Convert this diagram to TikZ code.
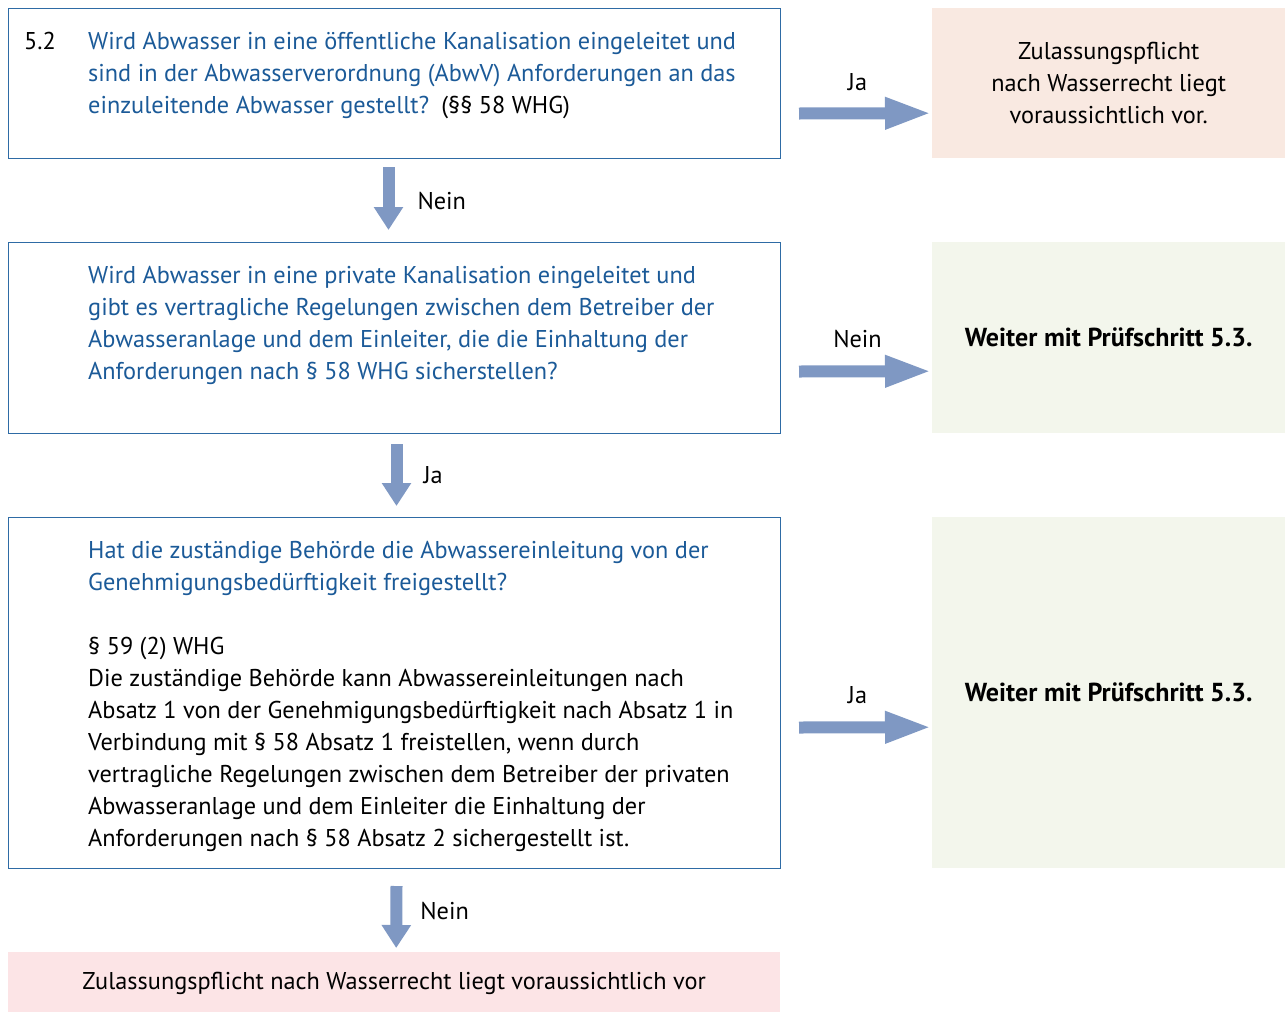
\documentclass[tikz,border=0pt]{standalone}
\usepackage{fontspec}
\setmainfont{PT Sans}
\usetikzlibrary{arrows.meta,positioning,calc}
\definecolor{QBlue}{HTML}{1B5A98}
\definecolor{Frame}{HTML}{2E6BA5}
\definecolor{ArrowBlue}{HTML}{7F98C3}
\definecolor{Beige}{HTML}{F9E9E1}
\definecolor{PaleGreen}{HTML}{F3F6EC}
\definecolor{Rose}{HTML}{FCE4E6}
\newcommand{\diafont}{\fontsize{24.3}{32}\selectfont}
\newcommand{\nextstep}{{\fontsize{26}{32}\selectfont\bfseries Weiter mit Prüfschritt 5.3.}}
\tikzset{
  qbox/.style={
    draw=Frame,
    line width=1pt,
    anchor=north west,
    inner sep=0pt,
    minimum width=772pt,
    minimum height=#1
  },
  resbox/.style={
    fill=#1,
    anchor=north west,
    align=center,
    inner sep=0pt,
    minimum width=353pt,
    font=\diafont
  },
  qtext/.style={
    anchor=north west,
    align=left,
    inner sep=0pt,
    text=QBlue,
    font=\diafont
  },
  lawtext/.style={
    anchor=north west,
    align=left,
    inner sep=0pt,
    text=black,
    font=\diafont
  },
  answer/.style={
    font=\diafont,
    inner sep=0pt
  },
  rightarrow/.style={
    -{Triangle[length=47pt,width=29pt]},
    line width=12pt,
    draw=ArrowBlue
  },
  downarrow/.style={
    -{Triangle[length=23pt,width=28pt]},
    line width=12pt,
    draw=ArrowBlue
  }
}

\begin{document}
\begin{tikzpicture}[x=1pt,y=-1pt]
\useasboundingbox (0,0) rectangle (1285,1012);

% Question boxes.
\node[qbox=150pt] (q1) at (8,8) {};
\node[qbox=191pt] (q2) at (8,242) {};
\node[qbox=351pt] (q3) at (8,517) {};

% Result boxes.
\node[resbox=Beige, minimum height=150pt] (r1) at (932,8) {%
  Zulassungspflicht\\
  nach Wasserrecht liegt\\
  voraussichtlich vor.};
\node[resbox=PaleGreen, minimum height=191pt] (r2) at (932,242) {\nextstep};
\node[resbox=PaleGreen, minimum height=351pt] (r3) at (932,517) {\nextstep};
\node[resbox=Rose, minimum width=772pt, minimum height=60pt, text depth=2pt] (r4) at (8,952) {%
  Zulassungspflicht nach Wasserrecht liegt voraussichtlich vor};

% Question texts.
\node[lawtext] (num) at (24,32) {5.2};
\node[qtext] (q1text) at (88,32) {%
  Wird Abwasser in eine öffentliche Kanalisation eingeleitet und\\
  sind in der Abwasserverordnung (AbwV) Anforderungen an das\\
  einzuleitende Abwasser gestellt?\enspace{\color{black}(§§ 58 WHG)}};
\node[qtext] (q2text) at (88,266) {%
  Wird Abwasser in eine private Kanalisation eingeleitet und\\
  gibt es vertragliche Regelungen zwischen dem Betreiber der\\
  Abwasseranlage und dem Einleiter, die die Einhaltung der\\
  Anforderungen nach § 58 WHG sicherstellen?};
\node[qtext] (q3text) at (88,541) {%
  Hat die zuständige Behörde die Abwassereinleitung von der\\
  Genehmigungsbedürftigkeit freigestellt?};
\node[lawtext, below=41pt of q3text.south west, anchor=north west] (q3law) {%
  § 59 (2) WHG\\
  Die zuständige Behörde kann Abwassereinleitungen nach\\
  Absatz 1 von der Genehmigungsbedürftigkeit nach Absatz 1 in\\
  Verbindung mit § 58 Absatz 1 freistellen, wenn durch\\
  vertragliche Regelungen zwischen dem Betreiber der privaten\\
  Abwasseranlage und dem Einleiter die Einhaltung der\\
  Anforderungen nach § 58 Absatz 2 sichergestellt ist.};

% Arrows to the right.
\draw[rightarrow] ([shift={(18pt,-30pt)}]q1.east) -- ([yshift=-30pt]r1.west)
  node[answer, midway, above=17pt, xshift=-8pt] (a1) {Ja};
\draw[rightarrow] ([shift={(18pt,-33.5pt)}]q2.east) -- ([yshift=-33.5pt]r2.west)
  node[answer, midway, above=18pt, xshift=-8pt] (a2) {Nein};
\draw[rightarrow] ([shift={(18pt,-34.5pt)}]q3.east) -- ([yshift=-34.5pt]r3.west)
  node[answer, midway, above=18pt, xshift=-8pt] (a3) {Ja};

% Arrows downwards.
\draw[downarrow] ([shift={(-6pt,-8pt)}]q1.south) -- ([shift={(-6pt,12pt)}]q2.north)
  node[answer, midway, right=23pt, yshift=-3pt] (d1) {Nein};
\draw[downarrow] ([shift={(2pt,-10pt)}]q2.south) -- ([shift={(2pt,11pt)}]q3.north)
  node[answer, midway, right=21pt] (d2) {Ja};
\draw[downarrow] ([shift={(2pt,-17pt)}]q3.south) -- ([shift={(2pt,4pt)}]r4.north)
  node[answer, midway, right=18pt, yshift=6pt] (d3) {Nein};

\end{tikzpicture}
\end{document}
